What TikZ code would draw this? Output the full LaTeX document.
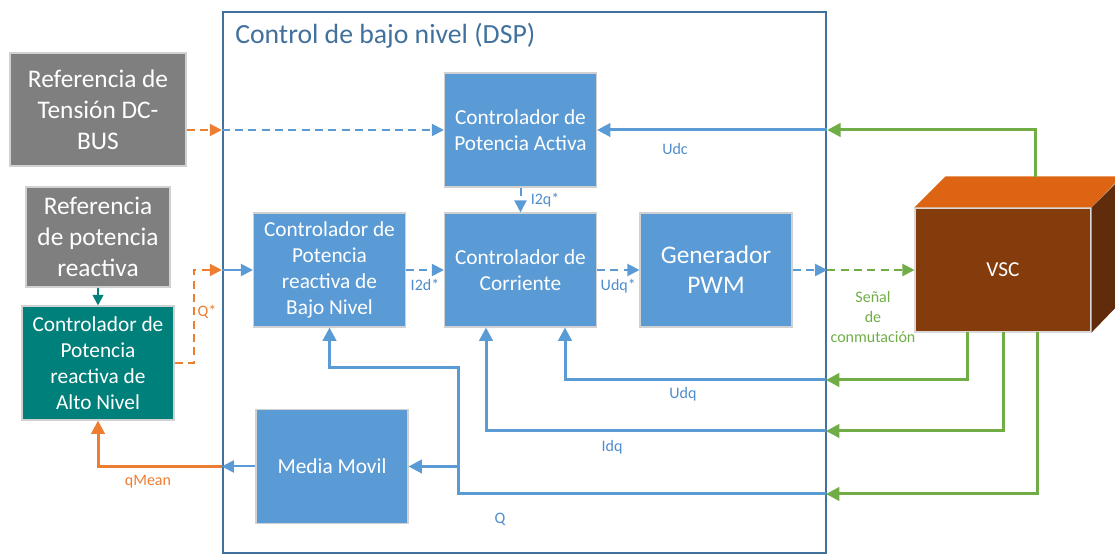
\documentclass[tikz,border=0pt]{standalone}
\usepackage{fontspec}
\setmainfont{Carlito}
\usetikzlibrary{arrows.meta,calc,positioning}
\definecolor{BoxBlue}{HTML}{5B9BD5}
\definecolor{LabelBlue}{HTML}{4F8CCB}
\definecolor{FrameBlue}{HTML}{41719C}
\definecolor{RefGrey}{HTML}{7F7F7F}
\definecolor{Teal}{HTML}{00807B}
\definecolor{Lime}{HTML}{70AD47}
\definecolor{Orange}{HTML}{ED7D31}
\definecolor{VscFront}{HTML}{843C0C}
\definecolor{VscTop}{HTML}{DD6413}
\definecolor{VscSide}{HTML}{612C0B}

\begin{document}
\begin{tikzpicture}[x=0.75pt,y=-0.75pt,
    box/.style={draw=black!18,line width=0.8pt,fill=BoxBlue,text=white,align=center,
      minimum width=114pt,minimum height=85.5pt,inner sep=2pt,font=\fontsize{16}{19.5}\selectfont},
    refbox/.style={box,fill=RefGrey,font=\fontsize{19}{23.2}\selectfont},
    lbl/.style={font=\fontsize{12}{15}\selectfont,text=LabelBlue,inner sep=1pt},
    fb/.style={BoxBlue,line width=2.25pt,-{Triangle[length=10pt,width=10pt]}},
    sig/.style={BoxBlue,line width=1.5pt,dash pattern=on 6pt off 4pt,-{Triangle[length=9pt,width=9pt]}},
    meas/.style={Lime,line width=2.25pt,-{Triangle[length=10pt,width=10pt]}}]
  \useasboundingbox (0,0) rectangle (1115,555);
  % low level frame
  \node[draw=FrameBlue,line width=1.8pt,minimum width=452.25pt,minimum height=405.75pt,inner sep=0pt] (dsp) at (524.5,282.5) {};
  \node[anchor=base west,font=\fontsize{20.8}{25}\selectfont,text=FrameBlue,inner sep=0pt] (title) at (235,44) {Control de bajo nivel (DSP)};
  % blocks
  \node[refbox,minimum width=132pt,minimum height=84.75pt] (refdc) at (98,109.5) {Referencia de\\Tensión DC-\\BUS};
  \node[refbox,minimum width=108pt,minimum height=75pt] (refq) at (98,237) {Referencia\\de potencia\\reactiva};
  \node[box,fill=Teal] (alto) at (98,363) {Controlador de\\Potencia\\reactiva de\\Alto Nivel};
  \node[box] (pa) at (520.5,130) {Controlador de\\Potencia Activa};
  \node[box] (qbajo) at (329.5,270) {Controlador de\\Potencia\\reactiva de\\Bajo Nivel};
  \node[box] (corr) at (520.5,270) {Controlador de\\Corriente};
  \node[box,font=\fontsize{19}{22.5}\selectfont] (pwm) at (716,270) {Generador\\PWM};
  \node[box] (media) at (332,466.5) {Media Movil};
  % converter cube
  \node[draw=black!15,line width=0.8pt,fill=VscFront,text=white,minimum width=132pt,minimum height=93pt,
    font=\fontsize{16}{19}\selectfont] (vsc) at (1003,270) {VSC};
  \fill[VscTop] (vsc.north west) -- ++(31,-31) -- ++(176,0) -- (vsc.north east) -- cycle;
  \fill[VscSide] (vsc.north east) -- ++(31,-31) -- ++(0,124) -- (vsc.south east) -- cycle;
  % junctions
  \coordinate (tapdc) at (1035,177);
  \coordinate (tapudq) at (967,332);
  \coordinate (tapidq) at (1003,332);
  \coordinate (tapq) at (1037,332);
  \coordinate (udqin) at (826,380);
  \coordinate (idqin) at (826,431);
  \coordinate (qin) at (826,494);
  \coordinate (qbus) at (458,368);
  % references and set points
  \draw[sig,Orange] (refdc.east |- pa.west) -- (dsp.west |- pa.west);
  \draw[sig] (dsp.west |- pa.west) -- (pa.west);
  \draw[Teal,line width=1.5pt,-{Triangle[length=8pt,width=8pt]}] (refq.south) -- (alto.north);
  \draw[sig,Orange] (alto.east) -- ++(19,0) |- (dsp.west |- qbajo.west);
  \node[lbl,text=Orange,anchor=west] (qstar) at (196,312) {Q*};
  \draw[BoxBlue,line width=1.5pt,-{Triangle[length=9pt,width=9pt]}] (dsp.west |- qbajo.west) -- (qbajo.west);
  \draw[sig] (qbajo.east) -- (corr.west) node[midway,below=5pt,lbl] {I2d*};
  \draw[sig] (pa.south) -- (corr.north) node[midway,right=6pt,lbl] {I2q*};
  \draw[sig] (corr.east) -- (pwm.west) node[midway,below=5pt,lbl] {Udq*};
  \draw[sig] (pwm.east) -- (dsp.east |- pwm.east);
  \draw[sig,Lime] (dsp.east |- pwm.east) -- (vsc.west);
  \node[lbl,text=Lime,align=center,font=\fontsize{12}{15}\selectfont] (senal) at (873,317) {Señal\\de\\conmutación};
  % measurements
  \draw[meas] (tapdc) |- (dsp.east |- pa.east);
  \draw[fb] (dsp.east |- pa.east) -- (pa.east);
  \node[lbl] (udc) at (675,149) {Udc};
  \draw[meas] (tapudq) |- (udqin);
  \draw[fb] (udqin) -| ($(corr.south)+(44.5,0)$);
  \node[lbl] (udq) at (683,394) {Udq};
  \draw[meas] (tapidq) |- (idqin);
  \draw[fb] (idqin) -| ($(corr.south)+(-34.5,0)$);
  \node[lbl] (idq) at (612,447) {Idq};
  \draw[meas] (tapq) |- (qin);
  \draw[fb] (qin) -| (qbus) -| (qbajo.south);
  \draw[fb] (qbus |- media.east) -- (media.east);
  \node[lbl] (qlbl) at (500,519) {Q};
  % filtered reactive power
  \draw[BoxBlue,line width=1.5pt,-{Triangle[length=9pt,width=9pt]}] (media.west) -- (dsp.west |- media.west);
  \draw[Orange,line width=2.25pt,-{Triangle[length=10pt,width=10pt]}] (dsp.west |- media.west) -| (alto.south);
  \node[lbl,text=Orange] (qmean) at (148,482) {qMean};
\end{tikzpicture}
\end{document}
